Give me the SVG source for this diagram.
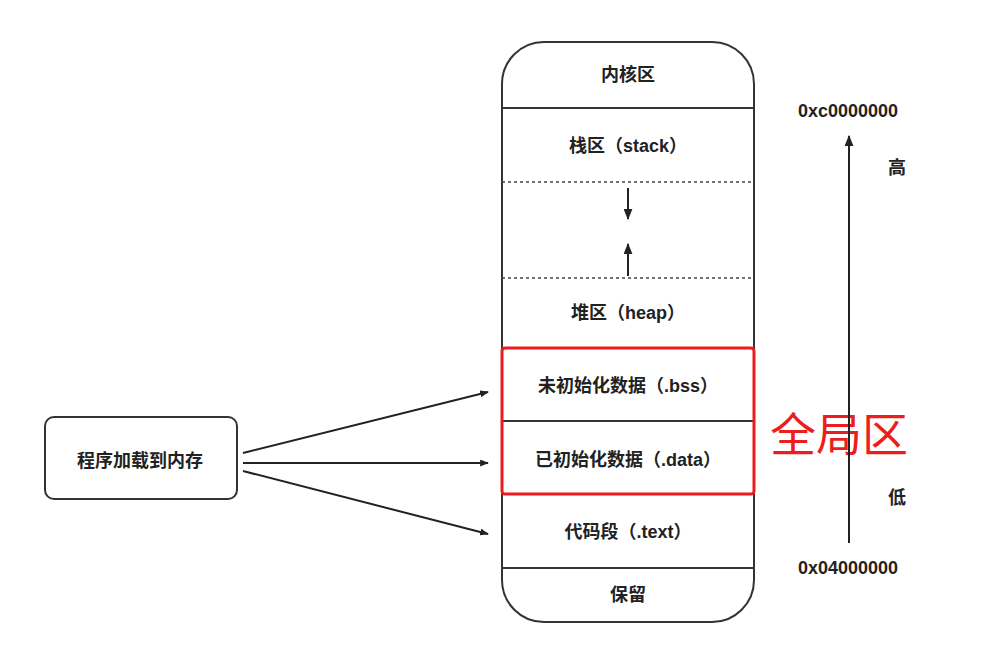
<svg xmlns="http://www.w3.org/2000/svg" width="999" height="645" viewBox="0 0 999 645">
  <style>
    .lbl { font-family: "Liberation Sans", "Noto Sans CJK SC", sans-serif; font-size: 18px; font-weight: bold; fill: #222; text-anchor: middle; dominant-baseline: central; }
    .outline { fill: none; stroke: #333; stroke-width: 2; }
    .div { stroke: #333; stroke-width: 2; }
    .dash { stroke: #444; stroke-width: 1.6; stroke-dasharray: 3 3; }
    .conn { stroke: #222; stroke-width: 2; fill: none; marker-end: url(#head); }
    .flow { stroke: #222; stroke-width: 2; fill: none; marker-end: url(#headL); }
    .red { fill: none; stroke: #ee1c1c; stroke-width: 3; }
  </style>
  <defs>
    <marker id="head" viewBox="0 0 10 8" refX="9" refY="4" markerWidth="9" markerHeight="7" markerUnits="userSpaceOnUse" orient="auto">
      <path d="M0,0 L10,4 L0,8 Z" fill="#222"/>
    </marker>
    <marker id="headL" viewBox="0 0 10 8" refX="9" refY="4" markerWidth="11" markerHeight="9" markerUnits="userSpaceOnUse" orient="auto">
      <path d="M0,0 L10,4 L0,8 Z" fill="#222"/>
    </marker>
  </defs>
  <rect width="999" height="645" fill="#fff"/>

  <!-- memory layout column -->
  <g id="memory">
    <path class="outline" d="M502,84 A42,42 0 0 1 544,42 L712,42 A42,42 0 0 1 754,84 L754,580 A42,42 0 0 1 712,622 L544,622 A42,42 0 0 1 502,580 Z"/>
    <line class="div" x1="502" y1="108" x2="754" y2="108"/>
    <line class="dash" x1="502" y1="182" x2="754" y2="182"/>
    <line class="dash" x1="502" y1="278" x2="754" y2="278"/>
    <line class="div" x1="502" y1="348" x2="754" y2="348"/>
    <line class="div" x1="502" y1="421" x2="754" y2="421"/>
    <line class="div" x1="502" y1="494" x2="754" y2="494"/>
    <line class="div" x1="502" y1="568" x2="754" y2="568"/>
  </g>
  <g id="kernel"><text class="lbl" x="628" y="75">内核区</text></g>
  <g id="stack"><text class="lbl" x="628" y="146">栈区（stack）</text></g>
  <g id="gap">
    <line class="flow" x1="628" y1="188" x2="628" y2="219"/>
    <line class="flow" x1="628" y1="276" x2="628" y2="244"/>
  </g>
  <g id="heap"><text class="lbl" x="628" y="313">堆区（heap）</text></g>
  <g id="bss"><text class="lbl" x="628" y="386">未初始化数据（.bss）</text></g>
  <g id="data"><text class="lbl" x="628" y="460">已初始化数据（.data）</text></g>
  <g id="text"><text class="lbl" x="628" y="532">代码段（.text）</text></g>
  <g id="reserved"><text class="lbl" x="628" y="595">保留</text></g>

  <!-- global area highlight -->
  <g id="global">
    <rect class="red" x="502" y="348" width="252" height="146" rx="3"/>
    <text x="839" y="431" font-family="'Noto Sans CJK SC', sans-serif" font-size="46" fill="#ee1c1c" text-anchor="middle" dominant-baseline="central">全局区</text>
  </g>

  <!-- loader box -->
  <g id="loader">
    <rect x="45" y="417" width="192" height="82" rx="9" fill="#fff" stroke="#333" stroke-width="2"/>
    <text class="lbl" x="140" y="461">程序加载到内存</text>
  </g>

  <!-- address axis -->
  <g id="axis">
    <text class="lbl" x="848" y="111">0xc0000000</text>
    <text class="lbl" x="848" y="568">0x04000000</text>
    <text class="lbl" x="897" y="168" font-size="15">高</text>
    <text class="lbl" x="897" y="498" font-size="15">低</text>
  </g>

  <g id="connectors">
    <line class="conn" x1="243" y1="453" x2="488" y2="392"/>
    <line class="conn" x1="243" y1="463" x2="488" y2="463"/>
    <line class="conn" x1="243" y1="471" x2="488" y2="534"/>
    <line class="flow" x1="849" y1="543" x2="849" y2="136"/>
  </g>
</svg>
